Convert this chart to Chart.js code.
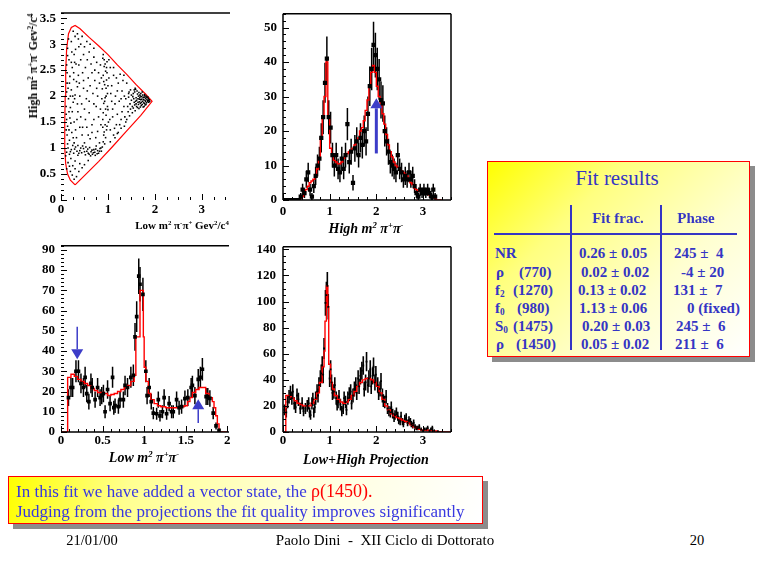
<!DOCTYPE html>
<html>
<head>
<meta charset="utf-8">
<script src="https://cdn.jsdelivr.net/npm/chart.js@4.4.0/dist/chart.umd.min.js"></script>
<style>
body { margin: 0; width: 768px; height: 576px; background: #fff; position: relative; overflow: hidden; font-family: "Liberation Serif", "Times New Roman", serif; }
canvas { position: absolute; }
.t { position: absolute; white-space: pre; line-height: 1; }
.c { transform: translate(-50%, -50%); }
.l { transform: translateY(-50%); }
.ax { font-weight: bold; color: #000; }
.it { font-style: italic; }
sup { font-size: 0.62em; vertical-align: 0.55em; line-height: 0; }
sub { font-size: 0.62em; vertical-align: -0.3em; line-height: 0; }
.box { position: absolute; box-sizing: border-box; border: 1.5px solid #f00; box-shadow: 5px 5px 0 #8c8c8c; }
.blue { color: #3535c4; }
.tb { font-weight: bold; font-size: 15px; }
.vl { position: absolute; width: 1.5px; background: #3535c4; }
.hl { position: absolute; height: 1.5px; background: #3535c4; }
</style>
</head>
<body>
<canvas id="cDalitz" width="240" height="232" style="left:0;top:0"></canvas>
<canvas id="cHigh" width="210" height="232" style="left:250px;top:0"></canvas>
<canvas id="cLow" width="240" height="240" style="left:0;top:232px"></canvas>
<canvas id="cProj" width="210" height="240" style="left:250px;top:232px"></canvas>

<!-- axis titles -->
<div class="t c ax" style="left:182px;top:225px;font-size:11px">Low m<sup>2</sup> π<sup>-</sup>π<sup>+</sup> Gev<sup>2</sup>/c<sup>4</sup></div>
<div class="t ax" style="left:33px;top:66px;font-size:12px;transform:translate(-50%,-50%) rotate(-90deg)">High m<sup>2</sup> π<sup>+</sup>π<sup>-</sup> Gev<sup>2</sup>/c<sup>4</sup></div>
<div class="t c ax it" style="left:366px;top:229px;font-size:14px">High m<sup>2</sup> π<sup>+</sup>π<sup>-</sup></div>
<div class="t c ax it" style="left:144px;top:458px;font-size:14px">Low m<sup>2</sup> π<sup>+</sup>π<sup>-</sup></div>
<div class="t c ax it" style="left:366px;top:460px;font-size:14px">Low+High Projection</div>

<!-- fit results box -->
<div class="box" style="left:487px;top:161px;width:263px;height:196px;background:linear-gradient(135deg,#ffff00 0%,#ffff80 30%,#ffffd0 65%,#ffffff 100%)"></div>
<div class="t c blue" style="left:617px;top:178px;font-size:21px">Fit results</div>
<div class="vl" style="left:570px;top:205px;height:145px"></div>
<div class="vl" style="left:660px;top:205px;height:145px"></div>
<div class="hl" style="left:494px;top:233px;width:243px"></div>
<div class="t c blue tb" style="left:618px;top:218px">Fit frac.</div>
<div class="t c blue tb" style="left:696px;top:218px">Phase</div>

<div class="t l blue tb" style="left:495px;top:253px">NR</div>
<div class="t l blue tb" style="left:496px;top:272px">ρ</div><div class="t l blue tb" style="left:519px;top:272px">(770)</div>
<div class="t l blue tb" style="left:495px;top:290px">f<sub>2</sub></div><div class="t l blue tb" style="left:513px;top:290px">(1270)</div>
<div class="t l blue tb" style="left:495px;top:308px">f<sub>0</sub></div><div class="t l blue tb" style="left:517px;top:308px">(980)</div>
<div class="t l blue tb" style="left:495px;top:326px">S<sub>0</sub></div><div class="t l blue tb" style="left:513px;top:326px">(1475)</div>
<div class="t l blue tb" style="left:496px;top:344px">ρ</div><div class="t l blue tb" style="left:516px;top:344px">(1450)</div>

<div class="t l blue tb" style="left:579px;top:253px">0.26 ± 0.05</div>
<div class="t l blue tb" style="left:581px;top:272px">0.02 ± 0.02</div>
<div class="t l blue tb" style="left:578px;top:290px">0.13 ± 0.02</div>
<div class="t l blue tb" style="left:579px;top:308px">1.13 ± 0.06</div>
<div class="t l blue tb" style="left:582px;top:326px">0.20 ± 0.03</div>
<div class="t l blue tb" style="left:581px;top:344px">0.05 ± 0.02</div>

<div class="t l blue tb" style="left:674px;top:253px">245 ±  4</div>
<div class="t l blue tb" style="left:681px;top:272px">-4 ± 20</div>
<div class="t l blue tb" style="left:673px;top:290px">131 ±  7</div>
<div class="t l blue tb" style="left:687px;top:308px">0 (fixed)</div>
<div class="t l blue tb" style="left:676px;top:326px">245 ±  6</div>
<div class="t l blue tb" style="left:675px;top:344px">211 ±  6</div>

<!-- comment box -->
<div class="box" style="left:8px;top:476px;width:475px;height:48px;background:linear-gradient(100deg,#ffff00 0%,#ffff90 25%,#ffffd8 60%,#ffffff 100%)"></div>
<div class="t l" style="left:16px;top:491px;font-size:17px;color:#3838e0">In this fit we have added a vector state, the <span style="color:#f00;font-size:18px">ρ(1450).</span></div>
<div class="t l" style="left:16px;top:511px;font-size:17px;color:#3838e0">Judging from the projections the fit quality improves significantly</div>

<!-- footer -->
<div class="t c" style="left:92px;top:540px;font-size:14.5px">21/01/00</div>
<div class="t c" style="left:385px;top:540px;font-size:15px">Paolo Dini  -  XII Ciclo di Dottorato</div>
<div class="t c" style="left:697px;top:540px;font-size:14.5px">20</div>

<script>
// --- data ---

// Dalitz plot events: [low m2, high m2]
const dalitzPts = [
  [0.12,0.92],[0.18,0.88],[0.22,0.97],[0.27,0.90],[0.31,1.02],[0.36,0.86],[0.40,0.95],[0.44,0.91],[0.48,0.99],[0.52,0.87],
  [0.55,0.94],[0.58,0.90],[0.61,1.01],[0.64,0.93],[0.67,0.88],[0.70,0.97],[0.72,0.92],[0.75,1.04],[0.78,0.95],[0.80,0.90],
  [0.83,0.99],[0.86,0.94],[0.88,1.02],[0.63,0.85],[0.46,1.04],[0.34,0.94],[0.25,1.05],[0.15,1.00],
  [0.90,1.12],[0.95,1.20],[0.92,1.31],[0.98,1.42],[0.89,1.55],[0.96,1.63],[1.00,1.74],[0.91,1.86],[0.94,1.97],[0.99,2.05],
  [0.88,2.14],[0.93,2.22],[0.97,2.31],[0.90,2.40],[0.95,2.48],[0.92,2.57],[0.98,2.66],[0.89,2.73],[0.90,2.80],[1.01,1.50],
  [0.87,1.95],[0.96,2.15],[0.93,1.08],[1.02,2.35],
  [1.50,1.92],[1.54,2.05],[1.57,1.83],[1.60,1.97],[1.62,2.10],[1.64,1.88],[1.66,1.76],[1.68,2.02],[1.70,1.93],[1.71,1.82],
  [1.73,2.08],[1.75,1.97],[1.76,1.87],[1.78,2.01],[1.79,1.92],[1.81,1.84],[1.82,1.98],[1.84,1.91],[1.86,1.95],[1.87,1.88],
  [1.58,1.72],[1.58,2.15],[1.52,1.68],[1.48,2.12],[1.67,1.94],[1.72,1.99],[1.77,1.80],[1.74,1.90],[1.78,2.03],[1.65,2.00],
  [1.55,1.95],[1.69,1.86],[1.80,1.96],[1.61,1.80],[1.46,1.62],[1.44,1.98],[1.59,2.13],[1.88,1.93],
  [0.45,1.25],[0.55,1.40],[0.62,1.18],[0.70,1.55],[0.78,1.32],[0.50,1.75],[0.60,1.90],[0.68,2.05],[0.75,1.80],[0.82,2.25],
  [0.58,2.35],[0.48,2.15],[0.72,2.50],[0.64,2.62],[0.40,2.00],[0.52,2.55],[0.80,1.60],[1.05,1.35],[1.10,1.60],[1.15,1.85],
  [1.20,2.10],[1.25,1.45],[1.30,1.70],[1.35,2.00],[1.40,2.25],[1.12,2.40],[1.08,2.20],[1.22,1.30],[1.28,1.95],[1.38,1.50],
  [1.18,2.35],[1.05,2.55],[1.15,1.20],[1.32,2.30],[1.42,1.80],[1.08,1.90],[0.85,1.45],[0.66,1.30],[0.42,1.60],[0.56,2.10],
  [0.76,2.15],[0.46,2.45],[0.84,2.60],[0.70,2.75],[0.60,2.85],
  [0.12,0.60],[0.15,0.72],[0.20,0.55],[0.25,0.66],[0.18,1.15],[0.23,1.30],[0.14,1.42],[0.28,1.50],[0.33,1.20],[0.11,1.65],
  [0.20,1.78],[0.26,1.88],[0.16,1.95],[0.30,2.02],[0.12,2.08],[0.22,2.12],[0.35,2.18],[0.18,2.25],[0.27,2.32],[0.13,2.45],
  [0.24,2.55],[0.32,2.62],[0.17,2.70],[0.28,2.80],[0.14,2.92],[0.22,3.05],[0.30,3.15],[0.38,2.95],[0.19,1.58],[0.36,1.70],
  [0.31,1.35],[0.13,1.25],[0.37,2.40],[0.25,2.00],[0.33,0.45],[0.21,0.80],[0.40,0.70],[0.35,1.85],[0.29,2.65],[0.42,3.00],
  [0.55,3.05],[0.70,2.92],[0.48,2.80],
  [0.28,0.40],[0.38,0.55],[0.50,0.68],[0.45,0.62],[0.58,0.76],[0.30,0.75],
  [1.05,1.12],[1.12,1.25],[1.20,1.28],[1.28,1.38],[1.35,1.42],[1.40,1.55],
  [1.52,1.80],[1.53,1.99],[1.56,1.88],[1.57,2.08],[1.60,1.85],[1.61,1.92],[1.63,2.04],[1.63,1.78],[1.65,1.84],[1.66,2.07],
  [1.67,1.89],[1.68,1.97],[1.69,1.79],[1.70,2.05],[1.71,1.88],[1.72,1.94],[1.73,1.84],[1.74,2.02],[1.75,1.79],[1.76,1.93],
  [1.77,1.98],[1.78,1.86],[1.79,1.83],[1.80,1.90],[1.81,2.00],[1.82,1.87],[1.83,1.94],[1.85,1.89],[1.85,1.98],[1.87,1.92],
  [1.89,1.90],[1.64,1.95],[1.59,1.90],[1.54,1.77],[1.50,2.02],[1.47,1.85],[1.43,1.70],[1.45,2.08],[1.56,2.12],[1.69,2.00],
  [0.10,0.85],[0.14,1.08],[0.17,1.35],[0.21,1.48],[0.11,1.80],[0.15,2.15],[0.19,2.38],[0.12,2.60],[0.23,2.85],[0.16,3.10],
  [0.26,3.25],[0.35,3.20],[0.12,1.55],[0.24,1.70],[0.29,1.95],[0.33,2.28],[0.20,2.00],[0.27,2.45],[0.14,2.78],[0.31,2.90],
  [0.38,2.60],[0.40,1.40],[0.44,1.85],[0.36,1.05],[0.26,1.20],[0.30,0.60],[0.18,0.65],[0.24,0.48],[0.39,2.25],[0.42,2.70],
  [0.17,1.70],[0.22,2.65],[0.34,1.55],[0.13,2.25],[0.28,1.10],[0.11,1.35],[0.37,3.10],[0.45,3.15],[0.50,2.95],[0.62,3.00],
  [0.50,1.10],[0.58,1.25],[0.66,1.45],[0.74,1.20],[0.82,1.10],[0.52,1.55],[0.60,1.68],[0.70,1.85],[0.78,2.00],[0.84,1.75],
  [0.54,1.95],[0.62,2.20],[0.72,2.30],[0.80,2.45],[0.56,2.70],[0.66,2.45],[0.48,2.30],[0.46,1.40],[0.76,2.65],[0.86,2.35],
  [1.04,1.55],[1.10,1.75],[1.16,2.00],[1.22,2.25],[1.28,1.55],[1.34,1.80],[1.18,1.45],[1.24,1.90],[1.06,2.05],[1.12,2.55],
  [1.30,2.10],[1.36,1.60],[1.44,2.05],[1.48,1.75],[1.34,2.40],[1.14,1.38],[1.02,2.70],[1.26,2.42],[1.20,1.65],[1.38,1.95],
  [0.20,0.93],[0.29,0.98],[0.38,0.90],[0.42,1.00],[0.50,0.93],[0.57,0.98],[0.60,0.88],[0.66,0.96],[0.69,0.91],[0.74,0.98],
  [0.77,0.89],[0.82,0.94],[0.85,1.00],[0.73,0.86],[0.53,1.02],
  [0.91,1.25],[0.97,1.35],[0.94,1.45],[0.90,1.68],[0.99,1.80],[0.93,1.90],[0.96,2.00],[0.91,2.28],[0.98,2.45],[0.94,2.62],
  [0.92,2.70],[0.97,2.55],[1.00,2.20],[0.89,1.40],[0.95,1.75]
];
// kinematic boundary (red contour)
const edgeX = [0.30,0.20,0.14,0.10,0.08,0.08,0.09,0.10,0.12,0.16,0.22,0.30,0.40,0.60,0.80,1.00,1.20,1.40,1.60,1.80,1.94,1.70,1.40,1.10,0.80,0.50,0.30];
const edgeY = [0.29,0.38,0.50,0.70,1.00,1.50,2.00,2.50,2.90,3.20,3.32,3.36,3.30,3.13,2.97,2.80,2.60,2.42,2.22,2.04,1.90,1.63,1.33,1.03,0.74,0.47,0.29];

// High m2 projection: data and fit
const highX = [0.02,0.06,0.10,0.14,0.18,0.22,0.26,0.30,0.34,0.38,0.42,0.46,0.50,0.54,0.58,0.62,0.66,0.70,0.74,0.78,
  0.82,0.86,0.90,0.94,0.98,1.02,1.06,1.10,1.14,1.18,1.22,1.26,1.30,1.34,1.38,1.42,1.46,1.50,1.54,1.58,
  1.62,1.66,1.70,1.74,1.78,1.82,1.86,1.90,1.94,1.98,2.02,2.06,2.10,2.14,2.18,2.22,2.26,2.30,2.34,2.38,
  2.42,2.46,2.50,2.54,2.58,2.62,2.66,2.70,2.74,2.78,2.82,2.86,2.90,2.94,2.98,3.02,3.06,3.10,3.14,3.18,3.22,3.26];
const highY = [0,0,0,0,0,0,0,0,0,1,3,2,6,8,3,1,4,7,10,12,
  18,24,34,41,24,21,13,10,13,9,8,12,9,13,22,11,14,5,15,17,
  13,18,16,20,17,25,33,38,45,42,38,35,29,28,20,17,14,11,10,9,
  8,13,9,8,6,7,6,8,6,7,4,2,1,3,2,3,2,3,2,1,3,1];
const highFitX = [0,0.36,0.40,0.44,0.48,0.52,0.56,0.60,0.64,0.68,0.72,0.76,0.80,0.84,0.88,0.92,0.96,1.00,1.04,1.08,
  1.12,1.16,1.20,1.24,1.28,1.32,1.36,1.40,1.44,1.48,1.52,1.56,1.60,1.64,1.68,1.72,1.76,1.80,1.84,1.88,
  1.92,1.96,2.00,2.04,2.08,2.12,2.16,2.20,2.24,2.28,2.32,2.36,2.40,2.44,2.48,2.52,2.56,2.60,2.64,2.68,
  2.72,2.76,2.80,2.84,2.88,2.92,2.96,3.00,3.04,3.08,3.12,3.16,3.20,3.24,3.28,3.40];
const highFitY = [0,0.5,1,2,3,4,5,5.5,6,7,9,12,18,24,30,40,24,15,13,11.5,
  11,10.5,10.5,11,12,13,13.5,14,14.5,15,16,17,18,20,21,23,26,29,33,37,
  39,37,33,30,28,25,22,19,16,14,12.5,11,10,9.5,9,8.5,8,7.5,7,6,
  5,4.5,3.5,3,2.5,2.5,2,2,2,1.8,1.5,1.2,1,0.5,0,0];

// Low m2 projection: data and fit
const lowX = [0.09,0.12,0.14,0.18,0.21,0.24,0.27,0.29,0.31,0.335,0.36,0.375,0.41,0.44,0.47,0.49,0.51,0.53,0.56,0.59,
  0.62,0.635,0.65,0.69,0.71,0.75,0.77,0.80,0.84,0.87,0.89,0.91,0.935,0.95,0.985,1.02,1.035,1.06,1.085,1.11,
  1.15,1.17,1.19,1.22,1.24,1.27,1.30,1.33,1.35,1.39,1.42,1.45,1.49,1.525,1.565,1.58,1.61,1.65,1.676,1.70,
  1.745,1.765,1.79,1.83,1.864,1.90];
const lowY = [17,22,22,30,30,24,22,27,19,15,24,22,16,22,17,18,19,10,21,14,
  27,12,13,12.5,16,16,23,22,27,28,47,57,77,73,68,30,18,22,15,9.3,
  9,16,8,10,17,9,14,10,10,16,12,12.5,16.5,17,22,23,18,26,27,31,
  17.5,17.5,16.6,9.3,3,0.8];
const lowFitX = [0,0.08,0.12,0.16,0.20,0.24,0.28,0.32,0.36,0.40,0.44,0.48,0.52,0.56,0.60,0.64,0.68,0.72,0.76,0.80,
  0.84,0.88,0.90,0.95,0.99,1.00,1.02,1.05,1.08,1.12,1.16,1.20,1.26,1.32,1.38,1.44,1.48,1.52,1.55,1.58,
  1.62,1.66,1.70,1.74,1.78,1.82,1.84,1.86,1.88,1.90,2.0];
const lowFitY = [0,27,28.5,27.5,26,25,24,23,21.5,20.5,19.5,19.5,19,18,18.5,19,20,21,22,23,
  25,28,47,70,47,32,25,19,16,14,13,12.5,12,12,12,12.5,13,15,17,19.5,
  21,22,22,19,17,15,12,8,4,0,0];

// Low+High projection: data and fit
const projX = [0.07,0.10,0.16,0.19,0.24,0.30,0.37,0.41,0.48,0.52,0.57,0.62,0.66,0.70,0.73,0.77,0.80,0.84,0.88,0.91,
  0.95,0.97,1.00,1.04,1.09,1.14,1.18,1.23,1.29,1.34,1.39,1.45,1.50,1.56,1.61,1.66,1.72,1.77,1.82,1.87,
  1.92,1.97,2.03,2.08,2.13,2.18,2.24,2.30,2.35,2.40,2.46,2.51,2.56,2.61,2.67,2.73,2.78,2.83,2.89,2.96,
  3.03,3.10,3.17,3.24,3.32,
  0.03,0.13,0.21,0.27,0.33,0.44,0.55,0.59,0.64,0.68,0.75,0.82,0.86,0.93,1.02,1.06,1.11,1.16,1.20,1.26,
  1.31,1.36,1.42,1.47,1.53,1.58,1.63,1.69,1.74,1.79,1.84,1.89,1.94,1.99,2.05,2.10,2.15,2.21,2.27,2.32,
  2.38,2.43,2.48,2.53,2.58,2.64,2.70,2.75,2.80,2.86,2.92,3.00,3.07,3.14,3.20];
const projY = [15,23,30,26,22,28,18,22,18,20,15,22,15,26,31,36,41,51,64,99,
  112,96,41,38,31,26,23,21,18,23,26,31,28,36,41,43,51,38,36,48,
  43,38,36,33,28,23,18,15,14,13,12,8,8,10,7,8,5,4,3,2,
  2,3,2,1,0.5,
  17,27,31,19,25,16,22,13,25,19,28,45,44,105,48,30,36,21,27,16,
  26,17,29,22,33,30,35,47,33,54,41,35,50,44,30,39,24,27,16,19,
  11,15,9,12,6,11,9,6,7,3,4,1,2,1,3];
const projFitX = [0,0.06,0.12,0.18,0.24,0.30,0.36,0.42,0.48,0.54,0.60,0.66,0.72,0.78,0.84,0.88,0.90,0.93,0.96,0.98,
  1.02,1.06,1.10,1.16,1.22,1.28,1.34,1.40,1.46,1.52,1.58,1.64,1.70,1.76,1.82,1.88,1.94,2.00,2.06,2.12,
  2.18,2.24,2.30,2.36,2.42,2.48,2.54,2.60,2.66,2.72,2.78,2.84,2.90,2.96,3.02,3.10,3.20,3.30,3.40,3.60];
const projFitY = [0,28,27,26,24,22,21,20,20,20,22,25,30,38,50,62,85,112,96,52,
  38,33,28,25,23,22,23,25,28,31,35,38,40,41,41,40,38,35,30,25,
  20,17,14,12.5,11,10,9,8,7,5.5,4,3,2,1.5,1.5,1.2,0.8,0.3,0,0];

// tick labels
const dalitzTicksX = [0, 1, 2, 3];
const dalitzTicksY = [0, 0.5, 1, 1.5, 2, 2.5, 3, 3.5];
const highTicksX = [0, 1, 2, 3];
const highTicksY = [0, 10, 20, 30, 40, 50];
const lowTicksX = [0, 0.5, 1, 1.5, 2];
const lowTicksY = [0, 10, 20, 30, 40, 50, 60, 70, 80, 90];
const projTicksX = [0, 1, 2, 3];
const projTicksY = [0, 20, 40, 60, 80, 100, 120, 140];

// blue arrows (x, from, to) in data units
const highArrows = [{ x: 2.0, from: 13.5, to: 29.5 }];
const lowArrows = [{ x: 0.195, from: 52, to: 36 }, { x: 1.65, from: 4.4, to: 16.2 }];

// --- helpers ---
const zip = (xs, ys) => xs.map((x, i) => ({ x, y: ys[i] }));
const FONT = { family: 'Liberation Serif', weight: 'bold', size: 13 };

function axes(xr, yr, xt, yt, yw, xh, xpad, ypad) {
    const common = {
        type: 'linear',
        grid: { display: false, drawTicks: false },
        border: { display: false }
    };
    return {
        x: Object.assign({}, common, {
            min: xr[0], max: xr[1],
            afterBuildTicks: s => { s.ticks = xt.map(v => ({ value: v })); },
            afterFit: s => { s.height = xh; },
            ticks: { padding: xpad, color: '#000', font: FONT, maxRotation: 0, autoSkip: false, callback: v => String(v) }
        }),
        y: Object.assign({}, common, {
            min: yr[0], max: yr[1],
            afterBuildTicks: s => { s.ticks = yt.map(v => ({ value: v })); },
            afterFit: s => { s.width = yw; },
            ticks: { padding: ypad, color: '#000', font: FONT, autoSkip: false, callback: v => String(v) }
        })
    };
}

// frame, ROOT-like inner ticks, error bars and arrows
const hep = {
    id: 'hep',
    beforeDatasetsDraw(chart, args, o) {
        if (o.errSet == null) return;
        const ctx = chart.ctx, xs = chart.scales.x, ys = chart.scales.y, a = chart.chartArea;
        ctx.save();
        ctx.beginPath(); ctx.rect(a.left, a.top, a.right - a.left, a.bottom - a.top); ctx.clip();
        ctx.strokeStyle = '#000'; ctx.lineWidth = o.errLine;
        chart.data.datasets[o.errSet].data.forEach(p => {
            const e = Math.sqrt(p.y);
            const px = xs.getPixelForValue(p.x), py = ys.getPixelForValue(p.y);
            ctx.beginPath();
            ctx.moveTo(px, ys.getPixelForValue(p.y - e));
            ctx.lineTo(px, ys.getPixelForValue(p.y + e));
            if (o.errHalf) {
                ctx.moveTo(xs.getPixelForValue(p.x - o.errHalf), py);
                ctx.lineTo(xs.getPixelForValue(p.x + o.errHalf), py);
            }
            ctx.stroke();
        });
        ctx.restore();
    },
    afterDraw(chart, args, o) {
        const ctx = chart.ctx, xs = chart.scales.x, ys = chart.scales.y, a = chart.chartArea;
        ctx.save();
        ctx.strokeStyle = '#000';
        ctx.lineWidth = 1.5;
        ctx.beginPath();
        (o.sides || []).forEach(s => {
            if (s === 'top') { ctx.moveTo(a.left, a.top); ctx.lineTo(a.right, a.top); }
            if (s === 'bottom') { ctx.moveTo(a.left, a.bottom); ctx.lineTo(a.right, a.bottom); }
            if (s === 'left') { ctx.moveTo(a.left, a.top); ctx.lineTo(a.left, a.bottom); }
            if (s === 'right') { ctx.moveTo(a.right, a.top); ctx.lineTo(a.right, a.bottom); }
        });
        ctx.stroke();
        ctx.lineWidth = 1;
        ctx.beginPath();
        for (let v = xs.min; v <= xs.max + 1e-9; v += o.minorX) {
            const px = Math.round(xs.getPixelForValue(v)) + 0.5;
            const major = Math.abs(v / o.majorX - Math.round(v / o.majorX)) < 1e-6;
            ctx.moveTo(px, a.bottom); ctx.lineTo(px, a.bottom - (major ? 6 : 3));
        }
        for (let v = ys.min; v <= ys.max + 1e-9; v += o.minorY) {
            const py = Math.round(ys.getPixelForValue(v)) + 0.5;
            const major = Math.abs(v / o.majorY - Math.round(v / o.majorY)) < 1e-6;
            ctx.moveTo(a.left, py); ctx.lineTo(a.left + (major ? 6 : 3), py);
        }
        ctx.stroke();
        (o.arrows || []).forEach(ar => {
            const px = xs.getPixelForValue(ar.x);
            const p0 = ys.getPixelForValue(ar.from), p1 = ys.getPixelForValue(ar.to);
            const dir = p1 < p0 ? 1 : -1;
            const hh = o.arrowHead, hw = o.arrowHead * 0.6;
            ctx.strokeStyle = '#3c3cc8'; ctx.fillStyle = '#3c3cc8';
            ctx.lineWidth = o.arrowLine;
            ctx.beginPath(); ctx.moveTo(px, p0); ctx.lineTo(px, p1 + dir * hh); ctx.stroke();
            ctx.beginPath();
            ctx.moveTo(px, p1);
            ctx.lineTo(px - hw, p1 + dir * hh);
            ctx.lineTo(px + hw, p1 + dir * hh);
            ctx.closePath(); ctx.fill();
        });
        ctx.restore();
    }
};

function fitSet(xs, ys) {
    return { data: zip(xs, ys), showLine: true, stepped: true, borderColor: '#f00', borderWidth: 1.4, pointRadius: 0, order: 1 };
}
function dataSet(xs, ys, r) {
    return { data: zip(xs, ys), showLine: false, pointStyle: 'rect', pointRadius: r, pointBorderWidth: 0, backgroundColor: '#000', borderColor: '#000', order: 0 };
}
function base(padTop, padRight, sc, hepOpts) {
    return {
        responsive: false, animation: false, devicePixelRatio: 1,
        layout: { padding: { top: padTop, right: padRight, left: 0, bottom: 0 } },
        plugins: { legend: { display: false }, tooltip: { enabled: false }, hep: hepOpts },
        scales: sc
    };
}

// --- Dalitz scatter ---
new Chart(document.getElementById('cDalitz'), {
    type: 'scatter',
    data: { datasets: [
        { data: dalitzPts.map(p => ({ x: p[0], y: p[1] })), pointStyle: 'rect', pointRadius: 1.1, pointBorderWidth: 0, backgroundColor: '#000' },
        { data: zip(edgeX, edgeY), showLine: true, borderColor: '#f00', borderWidth: 1.2, pointRadius: 0 }
    ] },
    options: base(13, 10, axes([0, 3.6], [0, 3.6], dalitzTicksX, dalitzTicksY, 61, 32, 2, 5),
        { sides: ['top'], minorX: 0.25, majorX: 1, minorY: 0.1, majorY: 0.5 }),
    plugins: [hep]
});

// --- High m2 projection ---
new Chart(document.getElementById('cHigh'), {
    type: 'scatter',
    data: { datasets: [fitSet(highFitX, highFitY), dataSet(highX, highY, 3.0)] },
    options: base(13, 9, axes([0, 3.6], [0, 54], highTicksX, highTicksY, 33, 32, 4, 6),
        { sides: ['top', 'right', 'bottom', 'left'], minorX: 0.2, majorX: 1, minorY: 2, majorY: 10,
          errSet: 1, errLine: 1.5, errHalf: 0.02, arrows: highArrows, arrowHead: 10, arrowLine: 3 }),
    plugins: [hep]
});

// --- Low m2 projection ---
new Chart(document.getElementById('cLow'), {
    type: 'scatter',
    data: { datasets: [fitSet(lowFitX, lowFitY), dataSet(lowX, lowY, 2.6)] },
    options: base(12, 11, axes([0, 2.02], [0, 92], lowTicksX, lowTicksY, 61, 40, 1, 6),
        { sides: ['top', 'bottom'], minorX: 0.1, majorX: 0.5, minorY: 2, majorY: 10,
          errSet: 1, errLine: 1.5, errHalf: 0.012, arrows: lowArrows, arrowHead: 10, arrowLine: 1.5 }),
    plugins: [hep]
});

// --- Low+High projection ---
new Chart(document.getElementById('cProj'), {
    type: 'scatter',
    data: { datasets: [fitSet(projFitX, projFitY), dataSet(projX, projY, 1.3)] },
    options: base(12, 9, axes([0, 3.6], [0, 142], projTicksX, projTicksY, 33, 40, 1, 7),
        { sides: ['top', 'right', 'bottom', 'left'], minorX: 0.2, majorX: 1, minorY: 5, majorY: 20,
          errSet: 1, errLine: 1.6, errHalf: 0, arrows: [] }),
    plugins: [hep]
});
</script>
</body>
</html>
